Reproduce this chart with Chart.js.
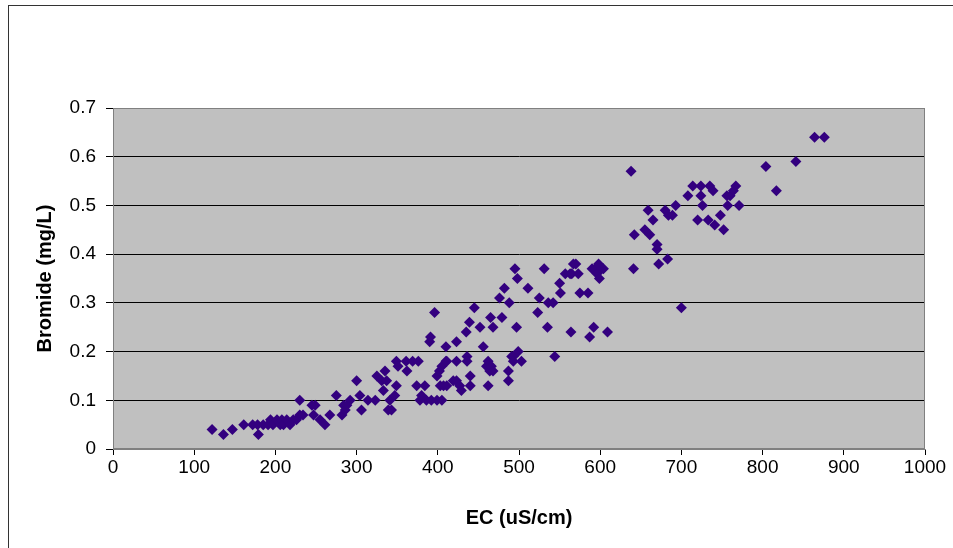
<!DOCTYPE html>
<html>
<head>
<meta charset="utf-8">
<script src="https://cdn.jsdelivr.net/npm/chart.js@4"></script>
<style>
  body { margin: 0; background: #fff; }
  #wrap { position: relative; width: 953px; height: 548px; overflow: hidden; }
  #frame { position: absolute; left: 8px; top: 5px; width: 980px; height: 580px; border: 1px solid #333; }
  #chart { position: absolute; left: 0; top: 0; }
</style>
</head>
<body>
<div id="wrap">
  <div id="frame"></div>
  <canvas id="chart" width="953" height="548"></canvas>
</div>
<script>
const ecValues = [
  122, 136, 147, 161, 172, 178, 179, 185, 191, 194, 197, 202, 206, 208, 210, 214, 218, 222, 226, 230,
  230, 234, 245, 247, 249, 255, 261, 267, 275, 282, 284, 286, 288, 292, 300, 304, 306, 314, 323, 325,
  331, 333, 335, 337, 339, 341, 343, 347, 349, 349, 351, 361, 362, 369, 374, 376, 378, 380, 384, 386,
  390, 391, 392, 396, 399, 399, 402, 403, 405, 405, 407, 410, 410, 411, 411, 419, 423, 423, 423, 427,
  429, 435, 436, 436, 439, 440, 440, 445, 452, 456, 460, 462, 462, 464, 466, 468, 465, 468, 476, 479,
  482, 487, 487, 488, 491, 493, 493, 495, 497, 498, 499, 503, 511, 523, 525, 531, 535, 536, 542, 544,
  550, 551, 557, 563, 564, 565, 567, 570, 573, 575, 585, 587, 590, 592, 594, 596, 598, 599, 602, 604,
  609, 638, 641, 642, 655, 659, 661, 665, 670, 670, 672, 680, 683, 684, 689, 693, 700, 708, 714, 720,
  724, 724, 726, 733, 735, 739, 741, 748, 752, 756, 757, 760, 764, 767, 771, 804, 817, 841, 864, 876
];
const bromideValues = [
  0.04, 0.03, 0.04, 0.05, 0.05, 0.05, 0.03, 0.05, 0.05, 0.06, 0.05, 0.06, 0.05, 0.06, 0.05, 0.06, 0.05, 0.06, 0.06, 0.07,
  0.10, 0.07, 0.09, 0.07, 0.09, 0.06, 0.05, 0.07, 0.11, 0.07, 0.09, 0.08, 0.09, 0.10, 0.14, 0.11, 0.08, 0.10, 0.10, 0.15,
  0.14, 0.12, 0.16, 0.14, 0.08, 0.10, 0.08, 0.11, 0.13, 0.18, 0.17, 0.18, 0.16, 0.18, 0.13, 0.18, 0.10, 0.11, 0.13, 0.10,
  0.22, 0.23, 0.10, 0.28, 0.10, 0.15, 0.16, 0.13, 0.10, 0.17, 0.13, 0.21, 0.18, 0.18, 0.13, 0.14, 0.18, 0.22, 0.14, 0.13,
  0.12, 0.24, 0.19, 0.18, 0.26, 0.13, 0.15, 0.29, 0.25, 0.21, 0.17, 0.18, 0.13, 0.16, 0.17, 0.16, 0.27, 0.25, 0.31, 0.27,
  0.33, 0.16, 0.14, 0.30, 0.19, 0.19, 0.18, 0.37, 0.25, 0.35, 0.20, 0.18, 0.33, 0.28, 0.31, 0.37, 0.25, 0.30, 0.30, 0.19,
  0.34, 0.32, 0.36, 0.36, 0.24, 0.36, 0.38, 0.38, 0.36, 0.32, 0.32, 0.23, 0.37, 0.25, 0.37, 0.36, 0.38, 0.35, 0.37, 0.37,
  0.24, 0.57, 0.37, 0.44, 0.45, 0.49, 0.44, 0.47, 0.42, 0.41, 0.38, 0.49, 0.39, 0.48, 0.48, 0.50, 0.29, 0.52, 0.54, 0.47,
  0.54, 0.52, 0.50, 0.47, 0.54, 0.53, 0.46, 0.48, 0.45, 0.52, 0.50, 0.52, 0.53, 0.54, 0.50, 0.58, 0.53, 0.59, 0.64, 0.64
];

const xTitle = "EC (uS/cm)";
const yTitle = "Bromide (mg/L)";

const points = ecValues.map((x, i) => ({ x: x, y: bromideValues[i] }));

// grey plot area plus its frame, Excel style
const plotArea = {
  id: "plotArea",
  beforeDraw(chart) {
    const a = chart.chartArea;
    const ctx = chart.ctx;
    ctx.save();
    ctx.fillStyle = "#c0c0c0";
    ctx.fillRect(a.left, a.top, a.right - a.left, a.bottom - a.top);
    ctx.restore();
  },
  beforeDatasetsDraw(chart) {
    const a = chart.chartArea;
    const ctx = chart.ctx;
    ctx.save();
    ctx.strokeStyle = "#808080";
    ctx.lineWidth = 1;
    ctx.strokeRect(a.left + 0.5, a.top + 0.5, a.right - a.left - 1, a.bottom - a.top - 1);
    ctx.restore();
  },
};

const tickFont = { family: "'Liberation Sans', Arial, sans-serif", size: 19 };
const titleFont = { family: "'Liberation Sans', Arial, sans-serif", size: 20, weight: "bold" };

new Chart(document.getElementById("chart"), {
  type: "scatter",
  data: {
    datasets: [
      {
        label: "Bromide",
        data: points,
        pointStyle: "rectRot",
        pointRadius: 5.5,
        pointHoverRadius: 5.5,
        backgroundColor: "#33007f",
        borderColor: "#33007f",
        borderWidth: 0,
      },
    ],
  },
  options: {
    responsive: false,
    animation: false,
    layout: { padding: { left: 29, top: 108, right: 28, bottom: 14 } },
    plugins: { legend: { display: false }, tooltip: { enabled: false } },
    scales: {
      x: {
        min: 0,
        max: 1000,
        ticks: {
          stepSize: 100,
          color: "#000",
          font: tickFont,
          padding: 1,
          maxRotation: 0,
          callback: (v) => String(v),
        },
        grid: { drawOnChartArea: false, tickLength: 6, tickColor: "#000" },
        border: { color: "#808080" },
        title: { display: true, text: xTitle, color: "#000", font: titleFont },
        afterFit(scale) {
          scale.height = 85;
        },
      },
      y: {
        min: 0,
        max: 0.7,
        ticks: {
          stepSize: 0.1,
          color: "#000",
          font: tickFont,
          padding: 10,
          callback: (v) => (v === 0 ? "0" : v.toFixed(1)),
        },
        grid: {
          tickLength: 7,
          tickColor: "#000",
          color: (c) => (c.tick && (c.tick.value === 0 || c.tick.value > 0.65) ? "#808080" : "#000"),
        },
        border: { color: "#808080" },
        title: { display: true, text: yTitle, color: "#000", font: titleFont },
        afterFit(scale) {
          scale.width = 84;
        },
      },
    },
  },
  plugins: [plotArea],
});
</script>
</body>
</html>
